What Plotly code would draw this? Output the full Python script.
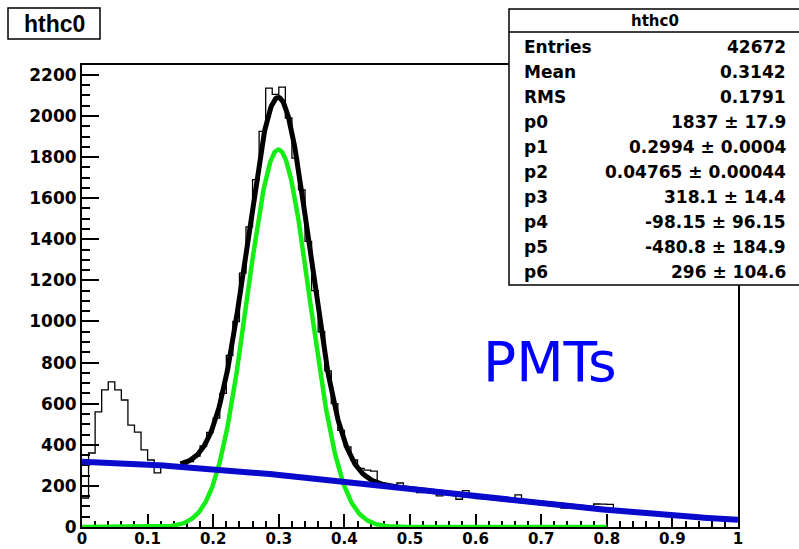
import numpy as np
import plotly.graph_objects as go

# ---- histogram hthc0: 100 bins on [0, 1] ----
x_min, x_max, n_bins = 0.0, 1.0, 100
counts = [
    141, 360, 560, 667, 706, 667, 618, 496, 462, 375,
    326, 263, 298, 301, 293, 287, 318, 345, 395, 460,
    530, 650, 835, 1000, 1235, 1460, 1690, 1925, 2135, 2105,
    2140, 1990, 1795, 1640, 1390, 1150, 950, 760, 600, 470,
    390, 326, 285, 277, 272, 215, 205, 198, 214, 190,
    186, 167, 183, 178, 151, 170, 163, 135, 177, 155,
    138, 149, 146, 140, 133, 137, 156, 126, 121, 119,
    107, 115, 108, 92, 104, 101, 96, 93, 112, 111,
    110, 80, 78, 75, 72, 70, 66, 63, 61, 58,
    56, 54, 51, 49, 47, 45, 43, 41, 39, 37,
]

# ---- statistics and fit result (gaus + pol3) ----
entries = 42672
mean = 0.3142
rms = 0.1791
par_names = ["p0", "p1", "p2", "p3", "p4", "p5", "p6"]
par_values = [1837, 0.2994, 0.04765, 318.1, -98.15, -480.8, 296]
par_errors = [17.9, 0.0004, 0.00044, 14.4, 96.15, 184.9, 104.6]

hist_name = "hthc0"
label_text = "PMTs"
y_top = 2248


def gaus(x, p):
    return p[0] * np.exp(-0.5 * ((x - p[1]) / p[2]) ** 2)


def pol3(x, p):
    return p[3] + p[4] * x + p[5] * x ** 2 + p[6] * x ** 3


edges = np.linspace(x_min, x_max, n_bins + 1)
step_x = list(edges[:-1]) + [edges[-1]]
step_y = list(counts) + [counts[-1]]

x_total = np.linspace(0.15, 0.8, 600)
x_sig = np.linspace(0.0, 0.8, 800)
x_bkg = np.linspace(0.0, 1.0, 400)

fig = go.Figure()
fig.add_trace(go.Scatter(x=step_x, y=step_y, mode="lines", line_shape="hv",
                         line=dict(color="black", width=1.3), hoverinfo="skip"))
fig.add_trace(go.Scatter(x=x_total, y=gaus(x_total, par_values) + pol3(x_total, par_values),
                         mode="lines", line=dict(color="black", width=5)))
fig.add_trace(go.Scatter(x=x_sig, y=gaus(x_sig, par_values), mode="lines",
                         line=dict(color="rgb(20,238,20)", width=4.5)))
fig.add_trace(go.Scatter(x=x_bkg, y=pol3(x_bkg, par_values), mode="lines",
                         line=dict(color="rgb(10,10,205)", width=6)))

# plot area in pixels
L, R, T, B = 82, 738, 65, 527
W, H = R - L, B - T


def px(p):
    return (p - L) / W


def py(p):
    return (B - p) / H


axis_font_y = dict(family="DejaVu Sans", size=17, color="black", weight="bold")
axis_font_x = dict(family="DejaVu Sans", size=15, color="black", weight="bold")

fig.update_layout(
    width=799, height=549,
    margin=dict(l=L, r=799 - R, t=T, b=549 - B, pad=0),
    paper_bgcolor="white", plot_bgcolor="white",
    showlegend=False,
    xaxis=dict(range=[x_min, x_max], showgrid=False, zeroline=False, automargin=False,
               showline=True, linecolor="black", linewidth=2, mirror=True,
               ticks="inside", ticklen=13, tickwidth=2, tickcolor="black",
               dtick=0.1, tick0=0, tickformat="~g", ticklabelstandoff=-3,
               minor=dict(ticks="inside", ticklen=6, tickwidth=2, dtick=0.02, tickcolor="black"),
               tickfont=axis_font_x, layer="below traces"),
    yaxis=dict(range=[0, y_top], showgrid=False, zeroline=False, automargin=False,
               showline=True, linecolor="black", linewidth=2, mirror=True,
               ticks="inside", ticklen=17, tickwidth=2, tickcolor="black",
               dtick=200, tick0=0,
               minor=dict(ticks="inside", ticklen=8, tickwidth=2, dtick=50, tickcolor="black"),
               tickfont=axis_font_y, layer="below traces"),
)

shapes = []
annotations = []

# title box
shapes.append(dict(type="rect", xref="paper", yref="paper",
                   x0=px(8), x1=px(100), y0=py(39), y1=py(8),
                   line=dict(color="black", width=1.5), fillcolor="white", layer="above"))
annotations.append(dict(xref="paper", yref="paper", x=px(54), y=py(24),
                        text=hist_name, showarrow=False, xanchor="center", yanchor="middle",
                        font=dict(family="Liberation Sans", size=23, color="black", weight="bold")))

# statistics box
box_l, box_r, box_t, box_b, head_b = 509, 801, 9, 285, 32
shapes.append(dict(type="rect", xref="paper", yref="paper",
                   x0=px(box_l), x1=px(box_r), y0=py(box_b), y1=py(box_t),
                   line=dict(color="black", width=1.5), fillcolor="white", layer="above"))
shapes.append(dict(type="line", xref="paper", yref="paper",
                   x0=px(box_l), x1=px(box_r), y0=py(head_b), y1=py(head_b),
                   line=dict(color="black", width=1.5), layer="above"))
annotations.append(dict(xref="paper", yref="paper", x=px(655), y=py(21),
                        text=hist_name, showarrow=False, xanchor="center", yanchor="middle",
                        font=dict(family="DejaVu Sans", size=15, color="black", weight="bold")))

stat_labels = ["Entries", "Mean", "RMS"] + par_names
stat_values = [str(entries), f"{mean:.4g}", f"{rms:.4g}"] + [
    f"{v:.4g} \u00b1 {e:.4g}" for v, e in zip(par_values, par_errors)]
row_y0, row_dy = 47, 25
stat_font = dict(family="DejaVu Sans", size=17, color="black", weight="bold")
for i, (lab, val) in enumerate(zip(stat_labels, stat_values)):
    yy = py(row_y0 + i * row_dy)
    annotations.append(dict(xref="paper", yref="paper", x=px(522), y=yy, text=lab,
                            showarrow=False, xanchor="left", yanchor="middle", font=stat_font))
    annotations.append(dict(xref="paper", yref="paper", x=px(788), y=yy, text=val,
                            showarrow=False, xanchor="right", yanchor="middle", font=stat_font))

# detector label
annotations.append(dict(xref="paper", yref="paper", x=px(550), y=py(362),
                        text=label_text, showarrow=False, xanchor="center", yanchor="middle",
                        font=dict(family="DejaVu Sans", size=55, color="#0000ff")))

fig.update_layout(shapes=shapes, annotations=annotations)
fig.write_html("out.html")
